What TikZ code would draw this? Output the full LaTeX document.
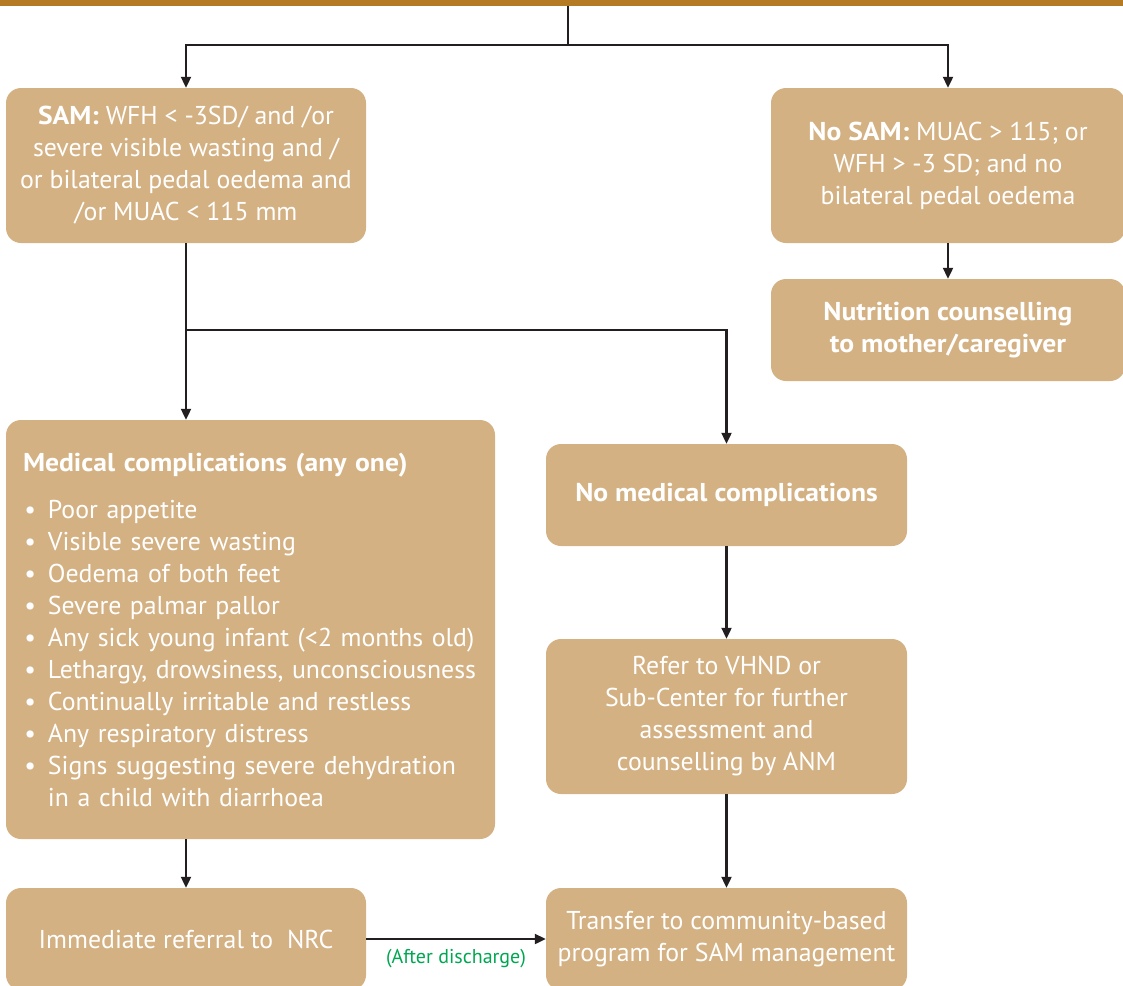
\documentclass[tikz,border=0pt]{standalone}
\usepackage{fontspec}
\setmainfont{PT Sans}[BoldFeatures={FakeStretch=1.07}]
\usetikzlibrary{arrows.meta}
\definecolor{boxtan}{RGB}{212,177,131}
\definecolor{barbrown}{RGB}{181,123,36}
\definecolor{notegreen}{RGB}{0,166,81}
\definecolor{linegray}{RGB}{35,31,32}
\newcommand{\itm}{\makebox[25pt][l]{\hspace{1.5pt}\textbullet}}

\begin{document}
\begin{tikzpicture}[x=1pt, y=-1pt,
  box/.style={rounded corners=15pt, fill=boxtan, text=white, align=center, inner sep=0pt, font=\fontsize{25.8}{32}\selectfont},
  arr/.style={-{Triangle[length=11pt, width=10pt]}, line width=2.1pt, draw=linegray},
  link/.style={line width=2.1pt, draw=linegray}]
  \useasboundingbox (0,0) rectangle (1123,985);
  \clip (0,0) rectangle (1123,985);

  % Screening outcome
  \node[fill=barbrown, minimum width=1130pt, minimum height=6pt, inner sep=0pt] (bar) at (561.5, 3) {};
  \node[box, minimum width=360pt, minimum height=155pt] (sam) at (186, 165.5) {\textbf{SAM:} WFH < -3SD/ and /or\\ severe visible wasting and /\\ or bilateral pedal oedema and\\ /or MUAC < 115 mm};
  \node[box, minimum width=354pt, minimum height=155pt] (nosam) at (948, 165.5) {\textbf{No SAM:} MUAC > 115; or\\ WFH > -3 SD; and no\\ bilateral pedal oedema};
  \node[box, minimum width=354pt, minimum height=102pt, font=\fontsize{25.8}{32}\selectfont\bfseries] (nutri) at (948, 330) {Nutrition counselling\\ to mother/caregiver};

  % Complications
  \node[box, minimum width=489pt, minimum height=419pt, text width=455pt, align=left] (med) at (250.5, 629.5) {\textbf{Medical complications (any one)}\\[15pt]
    \itm Poor appetite\\
    \itm Visible severe wasting\\
    \itm Oedema of both feet\\
    \itm Severe palmar pallor\\
    \itm Any sick young infant (<2 months old)\\
    \itm Lethargy, drowsiness, unconsciousness\\
    \itm Continually irritable and restless\\
    \itm Any respiratory distress\\
    \itm Signs suggesting severe dehydration\\
    \hspace*{25pt}in a child with diarrhoea};
  \node[box, minimum width=361pt, minimum height=102pt, font=\fontsize{25.8}{32}\selectfont\bfseries] (nomed) at (726.5, 495) {No medical complications};
  \node[box, minimum width=361pt, minimum height=155pt] (refer) at (726.5, 716.5) {Refer to VHND or\\ Sub-Center for further\\ assessment and\\ counselling by ANM};

  % Referral
  \node[box, minimum width=360pt, minimum height=102pt] (imm) at (186, 939) {Immediate referral to ~NRC};
  \node[box, minimum width=361pt, minimum height=102pt] (trans) at (726.5, 939) {Transfer to community-based\\ program for SAM management};

  \coordinate (split) at (568, 45);
  \coordinate (fork) at (186, 330);

  \draw[link] (bar.south -| split) -- (split);
  \draw[arr] (split) -| (sam.north);
  \draw[arr] (split) -| (nosam.north);
  \draw[arr] (nosam.south) -- (nutri.north);
  \draw[link] (sam.south) -- (fork);
  \draw[arr] (fork) -- (fork |- med.north);
  \draw[arr] (fork) -| (nomed.north);
  \draw[arr] (nomed.south) -- (refer.north);
  \draw[arr] (refer.south) -- (trans.north);
  \draw[arr] (med.south -| imm.north) -- (imm.north);
  \draw[arr] (imm.east) -- (trans.west) node[midway, below=9pt, inner sep=0pt, text=notegreen, font=\fontsize{20}{22}\selectfont] (after) {(After discharge)};

\end{tikzpicture}
\end{document}
